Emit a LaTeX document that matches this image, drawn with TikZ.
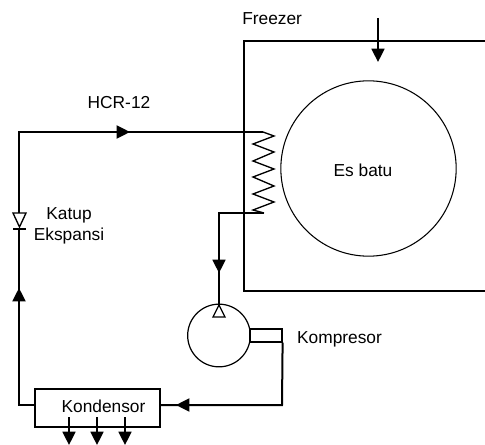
\documentclass[tikz,border=0pt]{standalone}
\usepackage{fontspec}
\setmainfont{Liberation Sans}
\usetikzlibrary{arrows.meta,positioning}

\begin{document}
\begin{tikzpicture}[x=0.75pt,y=-0.75pt,>={Triangle[length=10pt,width=9.75pt]},
  every node/.style={font=\fontsize{13}{15.75}\selectfont},
  pipe/.style={line width=1.5pt},
  thin line/.style={line width=0.8pt}]
\useasboundingbox (0,0) rectangle (485,445);
% freezer
\coordinate (fr1) at (485,41);
\coordinate (fr2) at (244,41);
\coordinate (fr3) at (244,291);
\coordinate (fr4) at (485,291);
\draw[pipe] (fr1) -- (fr2) -- (fr3) -- (fr4);
\node[anchor=west,inner sep=0pt] (freezer) at (242,19) {Freezer};
\node[draw,circle,thin line,minimum size=131.5pt,inner sep=0pt] (es) at (368.5,168.5) {};
\node (esbatu) at (363,170) {Es batu};
\coordinate (in1) at (378,18);
\coordinate (in2) at (378,62);
\draw[line width=1.2pt,->] (in1) -- (in2);
% compressor
\node[draw,circle,line width=0.9pt,minimum size=47pt,inner sep=0pt] (komp) at (219,335.5) {};
\node[draw,line width=0.9pt,minimum width=24pt,minimum height=9.75pt,inner sep=0pt] (outlet) at (266,335.5) {};
\node (kompresor) at (339.5,339) {Kompresor};
% condenser
\node[draw,pipe,minimum width=93.75pt,minimum height=28.5pt,inner sep=0pt] (kond) at (97.5,408) {};
\node (kondensor) at (103.5,406) {Kondensor};
\coordinate (k1) at (282,405);
\coordinate (k2) at (176,405);
\coordinate (k3) at (160,405);
\draw[pipe] (outlet.south east) -- (k1) -- (k3);
\draw[pipe,->] (k1) -- (k2);
\foreach \i/\xx in {a/69,b/97,c/125} {
  \coordinate (d\i1) at (\xx,417);
  \coordinate (d\i2) at (\xx,445);
  \draw[line width=1.2pt,->] (d\i1) -- (d\i2);
}
% left line and valve
\coordinate (l1) at (35,405);
\coordinate (l2) at (19,405);
\coordinate (l3) at (19,288);
\coordinate (l4) at (19,229);
\coordinate (v1) at (19,213);
\coordinate (v2) at (13,213);
\coordinate (v3) at (26,213);
\coordinate (v4) at (19.5,227);
\coordinate (v5) at (13,229);
\coordinate (v6) at (26,229);
\draw[pipe] (l1) -- (l2) -- (l4);
\draw[pipe,->] (l2) -- (l3);
\draw[line width=1pt] (v2) -- (v3) -- (v4) -- cycle;
\draw[line width=1pt] (v5) -- (v6);
\node[align=center] (katup) at (69,225.5) {Katup\\Ekspansi};
% top line and coil
\coordinate (t1) at (19,132);
\coordinate (t2) at (130,132);
\coordinate (t3) at (263,132);
\draw[pipe] (v1) -- (t1) -- (t3);
\draw[pipe,->] (t1) -- (t2);
\node (hcr) at (119,103) {HCR-12};
\draw[line width=1pt] (t3) -- (274,136) -- (253,144) -- (274,152) -- (253,161) -- (274,169)
  -- (253,177) -- (274,186) -- (253,194) -- (274,202) -- (253,210) -- (264,213);
% return line
\coordinate (r1) at (264,213);
\coordinate (r2) at (219,213);
\coordinate (r3) at (219,273);
\coordinate (r4) at (219,305);
\coordinate (r5) at (213,317);
\coordinate (r6) at (225,317);
\draw[line width=1.2pt] (r1) -- (r2) -- (r4);
\draw[line width=1.2pt,->] (r2) -- (r3);
\draw[line width=1pt] (r4) -- (r5) -- (r6) -- cycle;
\end{tikzpicture}
\end{document}
